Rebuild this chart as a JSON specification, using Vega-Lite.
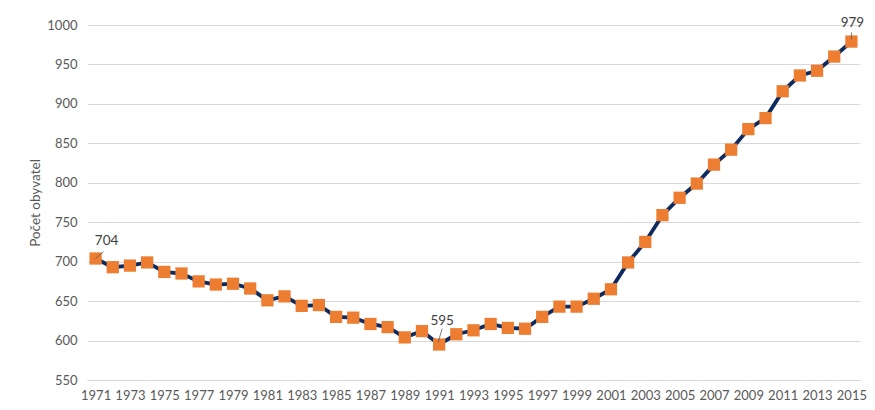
{
  "$schema": "https://vega.github.io/schema/vega-lite/v6.json",
  "autosize": {"type": "none"},
  "width": 773,
  "height": 355,
  "padding": {"left": 87, "top": 25, "right": 15, "bottom": 30},
  "background": "white",
  "config": {
    "view": {"stroke": null},
    "font": "Lato",
    "axis": {"labelFont": "Lato", "titleFont": "Lato", "labelColor": "#595959", "titleColor": "#595959", "labelFontSize": 13, "titleFontSize": 13.5, "titleFontWeight": "normal", "labelOverlap": false}
  },
  "data": {"values": [
    {"year": 1971, "pop": 704, "label": "704"},
    {"year": 1972, "pop": 693},
    {"year": 1973, "pop": 695},
    {"year": 1974, "pop": 699},
    {"year": 1975, "pop": 687},
    {"year": 1976, "pop": 685},
    {"year": 1977, "pop": 675},
    {"year": 1978, "pop": 671},
    {"year": 1979, "pop": 672},
    {"year": 1980, "pop": 666},
    {"year": 1981, "pop": 651},
    {"year": 1982, "pop": 656},
    {"year": 1983, "pop": 644},
    {"year": 1984, "pop": 645},
    {"year": 1985, "pop": 630},
    {"year": 1986, "pop": 629},
    {"year": 1987, "pop": 621},
    {"year": 1988, "pop": 617},
    {"year": 1989, "pop": 604},
    {"year": 1990, "pop": 612},
    {"year": 1991, "pop": 595, "label": "595"},
    {"year": 1992, "pop": 608},
    {"year": 1993, "pop": 613},
    {"year": 1994, "pop": 621},
    {"year": 1995, "pop": 616},
    {"year": 1996, "pop": 615},
    {"year": 1997, "pop": 630},
    {"year": 1998, "pop": 643},
    {"year": 1999, "pop": 643},
    {"year": 2000, "pop": 653},
    {"year": 2001, "pop": 665},
    {"year": 2002, "pop": 699},
    {"year": 2003, "pop": 725},
    {"year": 2004, "pop": 759},
    {"year": 2005, "pop": 781},
    {"year": 2006, "pop": 799},
    {"year": 2007, "pop": 823},
    {"year": 2008, "pop": 842},
    {"year": 2009, "pop": 868},
    {"year": 2010, "pop": 882},
    {"year": 2011, "pop": 916},
    {"year": 2012, "pop": 936},
    {"year": 2013, "pop": 942},
    {"year": 2014, "pop": 960},
    {"year": 2015, "pop": 979, "label": "979"}
  ]},
  "encoding": {
    "x": {
      "field": "year", "type": "ordinal", "title": null,
      "scale": {"type": "point", "padding": 0.5},
      "axis": {
        "values": [1971,1973,1975,1977,1979,1981,1983,1985,1987,1989,1991,1993,1995,1997,1999,2001,2003,2005,2007,2009,2011,2013,2015],
        "labelAngle": 0, "ticks": false, "domain": true, "domainColor": "#d9d9d9", "domainWidth": 1, "labelPadding": 9
      }
    },
    "y": {
      "field": "pop", "type": "quantitative", "title": "Počet obyvatel",
      "scale": {"domain": [550, 1000], "nice": false, "zero": false},
      "axis": {"values": [550,600,650,700,750,800,850,900,950,1000], "format": "d", "tickCount": 10, "labelOverlap": false, "grid": true, "gridColor": "#d9d9d9", "domain": false, "ticks": false, "labelPadding": 10, "titlePadding": 4}
    }
  },
  "layer": [
    {
      "mark": {"type": "line", "color": "#0d2a5e", "strokeWidth": 3.8}
    },
    {
      "mark": {"type": "point", "shape": "square", "filled": true, "size": 150, "color": "#ed7d31", "opacity": 1}
    },
    {
      "transform": [{"filter": "datum.year == 1971"}],
      "mark": {"type": "rule", "color": "#595959", "strokeWidth": 0.8, "x2Offset": 8, "y2Offset": -7},
      "encoding": {"y2": {"field": "pop"}, "x2": {"field": "year"}}
    },
    {
      "transform": [{"filter": "datum.year == 1991"}],
      "mark": {"type": "rule", "color": "#595959", "strokeWidth": 0.8, "xOffset": -1, "x2Offset": 3, "yOffset": -2, "y2Offset": -16},
      "encoding": {"y2": {"field": "pop"}, "x2": {"field": "year"}}
    },
    {
      "transform": [{"filter": "datum.year == 2015"}],
      "mark": {"type": "rule", "color": "#595959", "strokeWidth": 0.8, "yOffset": -2, "y2Offset": -9},
      "encoding": {"y2": {"field": "pop"}, "x2": {"field": "year"}}
    },
    {
      "transform": [{"filter": "datum.year == 1971"}],
      "mark": {"type": "text", "font": "Lato", "fontSize": 13.5, "color": "#404040", "dx": 11, "dy": -18},
      "encoding": {"text": {"field": "label"}}
    },
    {
      "transform": [{"filter": "datum.year == 1991"}],
      "mark": {"type": "text", "font": "Lato", "fontSize": 13.5, "color": "#404040", "dx": 3, "dy": -24},
      "encoding": {"text": {"field": "label"}}
    },
    {
      "transform": [{"filter": "datum.year == 2015"}],
      "mark": {"type": "text", "font": "Lato", "fontSize": 13.5, "color": "#404040", "dx": 1, "dy": -19},
      "encoding": {"text": {"field": "label"}}
    }
  ]
}
